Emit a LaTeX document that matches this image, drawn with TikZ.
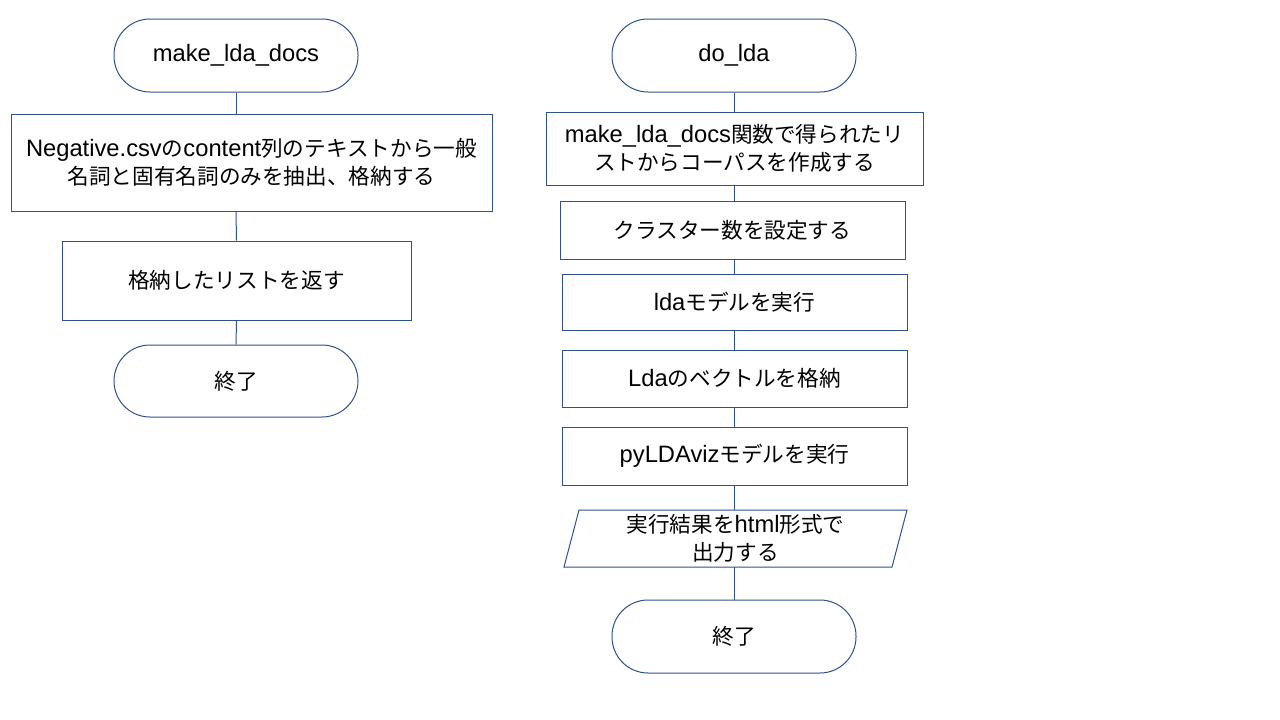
\documentclass[tikz,border=0pt]{standalone}
\usepackage{fontspec}
\setmainfont{Liberation Sans}[Scale=1.13]
\newfontfamily\jp{Noto Sans CJK JP}[Scale=1.03]
\definecolor{lineblue}{HTML}{2F528F}
\begin{document}
\begin{tikzpicture}[x=1pt,y=-1pt,
  every node/.style={font=\fontsize{21}{28}\selectfont, align=center, inner sep=0pt},
  term/.style={draw=lineblue, line width=1pt, rectangle, rounded corners=36pt, minimum width=244pt, minimum height=73pt},
  proc/.style={draw=lineblue, line width=1pt, rectangle},
  conn/.style={draw=lineblue, line width=1pt}]
\useasboundingbox[fill=white] (0,0) rectangle (1280,720);
% left column
\node[term] (t1) at (236,55.5) {make\_lda\_docs};
\node[proc, minimum width=481pt, minimum height=97pt] (b1) at (251.5,162.5) {Negative.csv{\jp の}content{\jp 列のテキストから一般}\\{\jp 名詞と固有名詞のみを抽出、格納する}};
\node[proc, minimum width=349pt, minimum height=79pt] (b2) at (236.5,280.5) {\jp 格納したリストを返す};
\node[term, minimum height=72pt] (t2) at (236,381) {\jp 終了};
\draw[conn] (t1.south) -- (t1.south |- b1.north);
\draw[conn] (t1.south |- b1.south) -- (b2.north);
\draw[conn] (b2.south) -- (t2.north);
% right column
\node[term] (t3) at (734,55.5) {do\_lda};
\node[proc, minimum width=377pt, minimum height=73pt] (r1) at (734.5,148.5) {make\_lda\_docs{\jp 関数で得られたリ}\\{\jp ストからコーパスを作成する}};
\node[proc, minimum width=345pt, minimum height=58pt] (r2) at (732.5,230) {\jp クラスター数を設定する};
\node[proc, minimum width=345pt, minimum height=56pt] (r3) at (734.5,302) {lda{\jp モデルを実行}};
\node[proc, minimum width=345pt, minimum height=57pt] (r4) at (734.5,378.5) {Lda{\jp のベクトルを格納}};
\node[proc, minimum width=345pt, minimum height=58pt] (r5) at (734.5,456) {pyLDAviz{\jp モデルを実行}};
\node[rectangle, minimum width=313pt, minimum height=57pt] (p) at (735.5,538.5) {{\jp 実行結果を}html{\jp 形式で}\\{\jp 出力する}};
\draw[conn] (579,510) -- (907,510) -- (892,567) -- (564,567) -- cycle;
\node[term] (t4) at (734,636.5) {\jp 終了};
\draw[conn] (t3.south) -- (t3.south |- r1.north);
\draw[conn] (t3.south |- r1.south) -- (t3.south |- r2.north);
\draw[conn] (t3.south |- r2.south) -- (t3.south |- r3.north);
\draw[conn] (t3.south |- r3.south) -- (t3.south |- r4.north);
\draw[conn] (t3.south |- r4.south) -- (t3.south |- r5.north);
\draw[conn] (t3.south |- r5.south) -- (t3.south |- p.north);
\draw[conn] (t3.south |- p.south) -- (t4.north);
\end{tikzpicture}
\end{document}
